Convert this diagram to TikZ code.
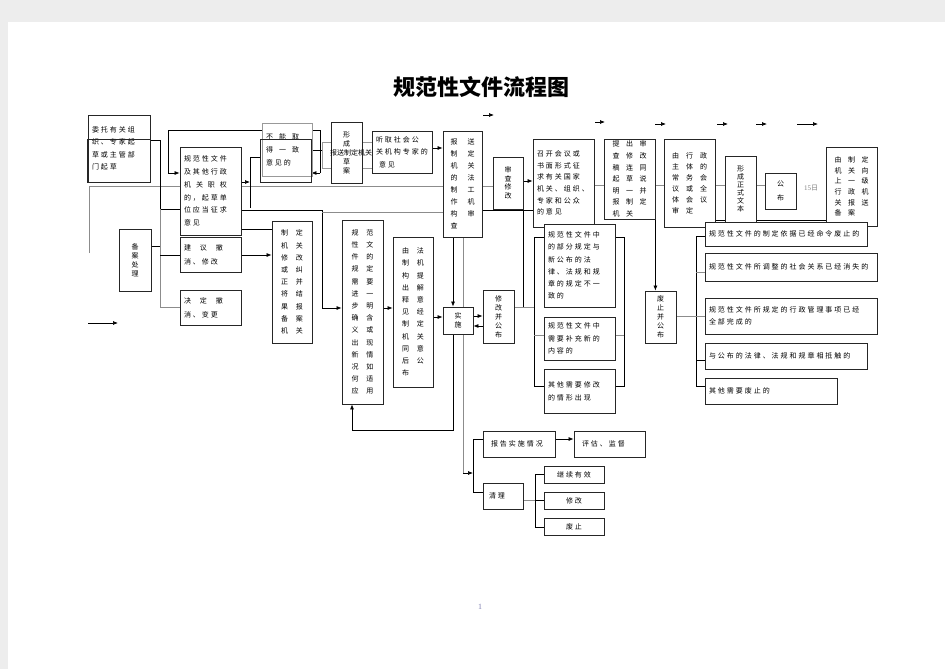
\documentclass[tikz,border=0pt]{standalone}
\usepackage{fontspec}
\setmainfont{Liberation Serif}
\newfontfamily\cjk[LetterSpace=28]{Noto Sans CJK SC}
\newfontfamily\cjkn{Noto Sans CJK SC}
\usetikzlibrary{arrows.meta}
\pgfdeclarelayer{bg}\pgfsetlayers{bg,main}
\newcommand\tc[3][9pt]{#2\hspace{#1}#3}
\newcommand\thc[4][6pt]{#2\hspace{#1}#3\hspace{#1}#4}
\newcommand\bx[7][]{%
 \pgfmathsetmacro\bxw{#5-#3-8}%
 \pgfmathsetmacro\bxh{#6-#4}%
 \pgfmathsetmacro\bxx{(#3+#5)/2}%
 \pgfmathsetmacro\bxy{(#4+#6)/2}%
 \node[bx,text width=\bxw pt,minimum height=\bxh pt,#1] (#2) at (\bxx,\bxy) {#7};}
\tikzset{
 bx/.style={draw=black!85, fill=white, line width=0.8pt, inner xsep=4pt, inner ysep=0pt, align=left, font=\cjk\fontsize{7}{12}\selectfont},
 vt/.style={align=center, font=\cjkn\fontsize{7}{9}\selectfont},
 ln/.style={line width=0.7pt, black},
 gl/.style={line width=0.6pt, black!45},
 arr/.style={ln, -{Latex[length=5pt,width=4pt]}}
}
\begin{document}
\begin{tikzpicture}[x=1pt,y=-1pt]
\useasboundingbox (0,0) rectangle (945,669);
\begin{pgfonlayer}{bg}
\fill[black!7] (0,0) rectangle (945,669);
\fill[white] (8,22) rectangle (945,669);
\end{pgfonlayer}

\node[font=\cjkn\bfseries\fontsize{22}{22}\selectfont] (title) at (481,87) {规范性文件流程图};

% top row
\bx[font=\cjk\fontsize{7}{12.5}\selectfont]{A}{88}{115}{150}{182}{委托有关组\\织、专家起\\草或主管部\\门起草}
\bx[fill=none]{A2}{87}{139}{150}{182}{}
\bx[font=\cjk\fontsize{7}{12.8}\selectfont]{B}{180}{147}{241}{235}{规范性文件\\及其他行政\\机\hspace{5pt}关\hspace{5pt}职\hspace{5pt}权\\的，起草单\\位应当征求\\意见}
\bx[draw=black!40,font=\cjk\fontsize{7}{13}\selectfont]{Cg}{262}{123}{312}{176}{\thc[6pt]{不}{能}{取}\\\thc[6pt]{得}{一}{致}\\意见的}
\bx[fill=none]{C}{260}{139}{311}{182}{}
\bx[draw=black!40]{Dg}{322}{142}{372}{168}{}
\bx[vt,font=\cjkn\fontsize{7}{9}\selectfont]{D}{331}{122}{362}{183}{形\\成\\[9pt]草\\案}
\node[font=\cjkn\fontsize{7}{7}\selectfont,inner sep=0pt] (Dt) at (351,153) {报送制定机关};
\bx[font=\cjk\fontsize{7}{12.5}\selectfont]{E}{372}{131}{432}{173}{听取社会公\\关机构专家的\\\hspace{3pt}意见}
\bx[vt,font=\cjkn\fontsize{7}{12}\selectfont]{F}{443}{131}{482}{237}{\tc[10pt]{报}{送}\\\tc[10pt]{制}{定}\\\tc[10pt]{机}{关}\\\tc[10pt]{的}{法}\\\tc[10pt]{制}{工}\\\tc[10pt]{作}{机}\\\tc[10pt]{构}{审}\\\tc[10pt]{查}{\hphantom{查}}}
\bx[vt,font=\cjkn\fontsize{7}{8.5}\selectfont]{G}{493}{157}{523}{209}{审\\查\\修\\改}
\bx[font=\cjk\fontsize{7}{11.6}\selectfont]{H}{533}{139}{594}{227}{召开会议或\\书面形式征\\求有关国家\\机关、组织、\\专家和公众\\的意见}
\bx[vt,font=\cjkn\fontsize{7}{11.6}\selectfont]{I}{604}{139}{655}{219}{\thc[6.5pt]{提}{出}{审}\\\thc[6.5pt]{查}{修}{改}\\\thc[6.5pt]{稿}{连}{同}\\\thc[6.5pt]{起}{草}{说}\\\thc[6.5pt]{明}{一}{并}\\\thc[6.5pt]{报}{制}{定}\\\thc[6.5pt]{机}{关}{\hphantom{关}}}
\bx[vt,font=\cjkn\fontsize{7}{11}\selectfont]{J}{664}{139}{715}{227}{\thc[7pt]{由}{行}{政}\\\thc[7pt]{主}{体}{的}\\\thc[7pt]{常}{务}{会}\\\thc[7pt]{议}{或}{全}\\\thc[7pt]{体}{会}{议}\\\thc[7pt]{审}{定}{\hphantom{定}}}
\bx[vt,font=\cjkn\fontsize{7}{8}\selectfont]{K}{725}{156}{756}{222}{形\\成\\正\\式\\文\\本}
\bx[vt,font=\cjkn\fontsize{7}{14}\selectfont]{L}{765}{173}{796}{209}{公\\布}
\node[text=black!50,font=\fontsize{7}{7}\selectfont,inner sep=0pt] (d15) at (811,188) {15{\cjkn 日}};
\bx[vt,font=\cjkn\fontsize{7}{10.6}\selectfont]{M}{826}{147}{877}{226}{\thc[6.5pt]{由}{制}{定}\\\thc[6.5pt]{机}{关}{向}\\\thc[6.5pt]{上}{一}{级}\\\thc[6.5pt]{行}{政}{机}\\\thc[6.5pt]{关}{报}{送}\\\thc[6.5pt]{备}{案}{\hphantom{案}}}

% left column
\bx[vt,font=\cjkn\fontsize{7}{9}\selectfont]{BA}{119}{229}{151}{291}{备\\案\\处\\理}
\bx[font=\cjk\fontsize{7}{14}\selectfont]{JY}{180}{237}{241}{272}{\thc[9pt]{建}{议}{撤}\\消、修改}
\bx[font=\cjk\fontsize{7}{14}\selectfont]{JD}{180}{290}{241}{325}{\thc[9pt]{决}{定}{撤}\\消、变更}
\bx[vt,font=\cjkn\fontsize{7}{12.2}\selectfont]{N}{272}{221}{312}{343}{\tc[8pt]{制}{定}\\\tc[8pt]{机}{关}\\\tc[8pt]{修}{改}\\\tc[8pt]{或}{纠}\\\tc[8pt]{正}{并}\\\tc[8pt]{将}{结}\\\tc[8pt]{果}{报}\\\tc[8pt]{备}{案}\\\tc[8pt]{机}{关}}
\bx[vt,font=\cjkn\fontsize{7}{12.2}\selectfont]{O}{342}{220}{383}{404}{\tc[8pt]{规}{范}\\\tc[8pt]{性}{文}\\\tc[8pt]{件}{的}\\\tc[8pt]{规}{定}\\\tc[8pt]{需}{要}\\\tc[8pt]{进}{一}\\\tc[8pt]{步}{明}\\\tc[8pt]{确}{含}\\\tc[8pt]{义}{或}\\\tc[8pt]{出}{现}\\\tc[8pt]{新}{情}\\\tc[8pt]{况}{如}\\\tc[8pt]{何}{适}\\\tc[8pt]{应}{用}}
\bx[vt,font=\cjkn\fontsize{7}{12.2}\selectfont]{P}{393}{237}{433}{387}{\tc[8pt]{由}{法}\\\tc[8pt]{制}{机}\\\tc[8pt]{构}{提}\\\tc[8pt]{出}{解}\\\tc[8pt]{释}{意}\\\tc[8pt]{见}{经}\\\tc[8pt]{制}{定}\\\tc[8pt]{机}{关}\\\tc[8pt]{同}{意}\\\tc[8pt]{后}{公}\\\tc[8pt]{布}{\hphantom{布}}}
\bx[vt,font=\cjkn\fontsize{7}{9}\selectfont]{Q}{443}{307}{473}{334}{实\\施}
\bx[vt,font=\cjkn\fontsize{7}{9}\selectfont]{R}{483}{290}{514}{343}{修\\改\\并\\公\\布}
\bx[font=\cjk\fontsize{7}{12.2}\selectfont]{S1}{544}{224}{615}{307}{规范性文件中\\的部分规定与\\新公布的法\\律、法规和规\\章的规定不一\\致的}
\bx[font=\cjk\fontsize{7}{12.5}\selectfont]{S2}{544}{317}{615}{360}{规范性文件中\\需要补充新的\\内容的}
\bx[font=\cjk\fontsize{7}{13}\selectfont]{S3}{544}{369}{615}{413}{其他需要修改\\的情形出现}
\bx[vt,font=\cjkn\fontsize{7}{9}\selectfont]{T}{645}{291}{676}{343}{废\\止\\并\\公\\布}
\bx{U1}{705}{222}{867}{246}{规范性文件的制定依据已经命令废止的}
\bx{U2}{705}{253}{877}{281}{规范性文件所调整的社会关系已经消失的}
\bx[font=\cjk\fontsize{7}{12}\selectfont]{U3}{705}{298}{877}{334}{规范性文件所规定的行政管理事项已经\\全部完成的}
\bx{U4}{705}{343}{867}{369}{与公布的法律、法规和规章相抵触的}
\bx{U5}{705}{378}{837}{404}{其他需要废止的}

% bottom
\bx{V}{483}{431}{555}{457}{\hspace{4pt}报告实施情况}
\bx{W}{574}{431}{645}{457}{\hspace{4pt}评估、监督}
\bx{X}{483}{483}{523}{509}{\hspace{2pt}清理}
\bx[align=center]{Y1}{544}{466}{604}{483}{继续有效}
\bx[align=center]{Y2}{544}{492}{604}{509}{修改}
\bx[align=center]{Y3}{544}{518}{604}{535}{废止}

\node[text=blue!40!black!50,font=\fontsize{8}{8}\selectfont] (pn) at (480,607) {1};

% free arrows
\coordinate (f0a) at (88,323);  \coordinate (f0b) at (118,323);
\coordinate (f1a) at (483,115); \coordinate (f1b) at (494,115);
\coordinate (f2a) at (595,122); \coordinate (f2b) at (605,122);
\coordinate (f3a) at (655,124); \coordinate (f3b) at (666,124);
\coordinate (f4a) at (717,124); \coordinate (f4b) at (728,124);
\coordinate (f5a) at (756,124); \coordinate (f5b) at (767,124);
\coordinate (f6a) at (797,124); \coordinate (f6b) at (818,124);
\foreach \i in {0,...,6} {\draw[arr] (f\i a) -- (f\i b);}

\begin{pgfonlayer}{bg}
\draw[gl] (89,253) -- (89,186) -- (G.west |- 0,186);
\draw[ln] (A.east |- 0,140) -- (160,140) -- (160,209) -- (B.west |- 0,209);
\draw[gl] (160,209) -- (160,307) -- (JD.west |- 0,307);
\draw[ln] (BA.east |- 0,246) -- (160,246);
\draw[ln] (160,255) -- (JY.west |- 0,255);
\draw[arr] (168,130) -- (168,173) -- (B.west |- 0,173);
\draw[ln] (168,130) -- (320,130) -- (320,173);
\draw[arr] (320,173) -- (C.east |- 0,173);
\draw[arr] (C.east |- 0,150) -- (D.west |- 0,150);
\draw[ln] (250,208) -- (250,157) -- (C.west |- 0,157);
\draw[arr] (B.east |- 0,182) -- (250,182);
\draw[ln] (B.east |- 0,229) -- (N.west |- 0,229);
\draw[arr] (JY.east |- 0,255) -- (N.west |- 0,255);
\draw[ln,line width=1pt] (B.east |- 0,210) -- (322,210) -- (322,308);
\draw[arr] (322,308) -- (O.west |- 0,308);
\draw[gl] (322,212) -- (F.west |- 0,212);
\draw[arr] (D.east |- 0,145) -- (E.west |- 0,145);
\draw[arr] (E.east |- 0,148) -- (F.west |- 0,148);
\draw[arr] (G.east |- 0,181) -- (H.west |- 0,181);
\draw[gl] (H.east |- 0,185) -- (I.west |- 0,185);
\draw[gl] (I.east |- 0,185) -- (J.west |- 0,185);
\draw[gl] (J.east |- 0,185) -- (K.west |- 0,185);
\draw[gl] (K.east |- 0,185) -- (L.west |- 0,185);
\draw[ln] (J.east |- 0,220) -- (M.west |- 0,220);
\draw[arr] (F.south -| 453,0) -- (Q.north -| 453,0);
\draw[gl] (F.south -| 463,0) -- (463,473);
\draw[arr] (463,473) -- (473,473);
\draw[ln] (V.west |- 0,439) -- (473,439) -- (473,492) -- (X.west |- 0,492);
\draw[arr] (Q.south -| 453,0) -- (453,430) -- (352,430) -- (O.south -| 352,0);
\draw[arr] (O.east |- 0,308) -- (P.west |- 0,308);
\draw[arr] (P.east |- 0,317) -- (Q.west |- 0,317);
\draw[arr] (Q.east |- 0,316) -- (R.west |- 0,316);
\draw[arr] (R.west |- 0,326) -- (Q.east |- 0,326);
\draw[gl] (R.east |- 0,307) -- (534,307);
\draw[ln] (523,307) -- (523,210);
\draw[ln,line width=1pt] (F.east |- 0,210) -- (H.west |- 0,210);
\draw[ln] (S1.west |- 0,237) -- (534,237) -- (534,386) -- (S3.west |- 0,386);
\draw[gl] (534,335) -- (S2.west |- 0,335);
\draw[ln] (S1.east |- 0,237) -- (624,237) -- (624,386) -- (S3.east |- 0,386);
\draw[gl] (624,335) -- (S2.east |- 0,335);
\draw[arr] (I.south east) -- (T.north -| I.south east);
\draw[gl] (T.east |- 0,316) -- (696,316);
\draw[ln] (U1.west |- 0,236) -- (696,236) -- (696,386) -- (U5.west |- 0,386);
\draw[gl] (696,272) -- (U2.west |- 0,272);
\draw[gl] (696,316) -- (U3.west |- 0,316);
\draw[ln] (696,360) -- (U4.west |- 0,360);
\draw[arr] (V.east |- 0,439) -- (W.west |- 0,439);
\draw[gl] (X.east |- 0,500) -- (535,500);
\draw[ln] (Y1.west |- 0,474) -- (535,474) -- (535,527) -- (Y3.west |- 0,527);
\draw[ln] (535,500) -- (Y2.west |- 0,500);
\end{pgfonlayer}
\end{tikzpicture}
\end{document}
